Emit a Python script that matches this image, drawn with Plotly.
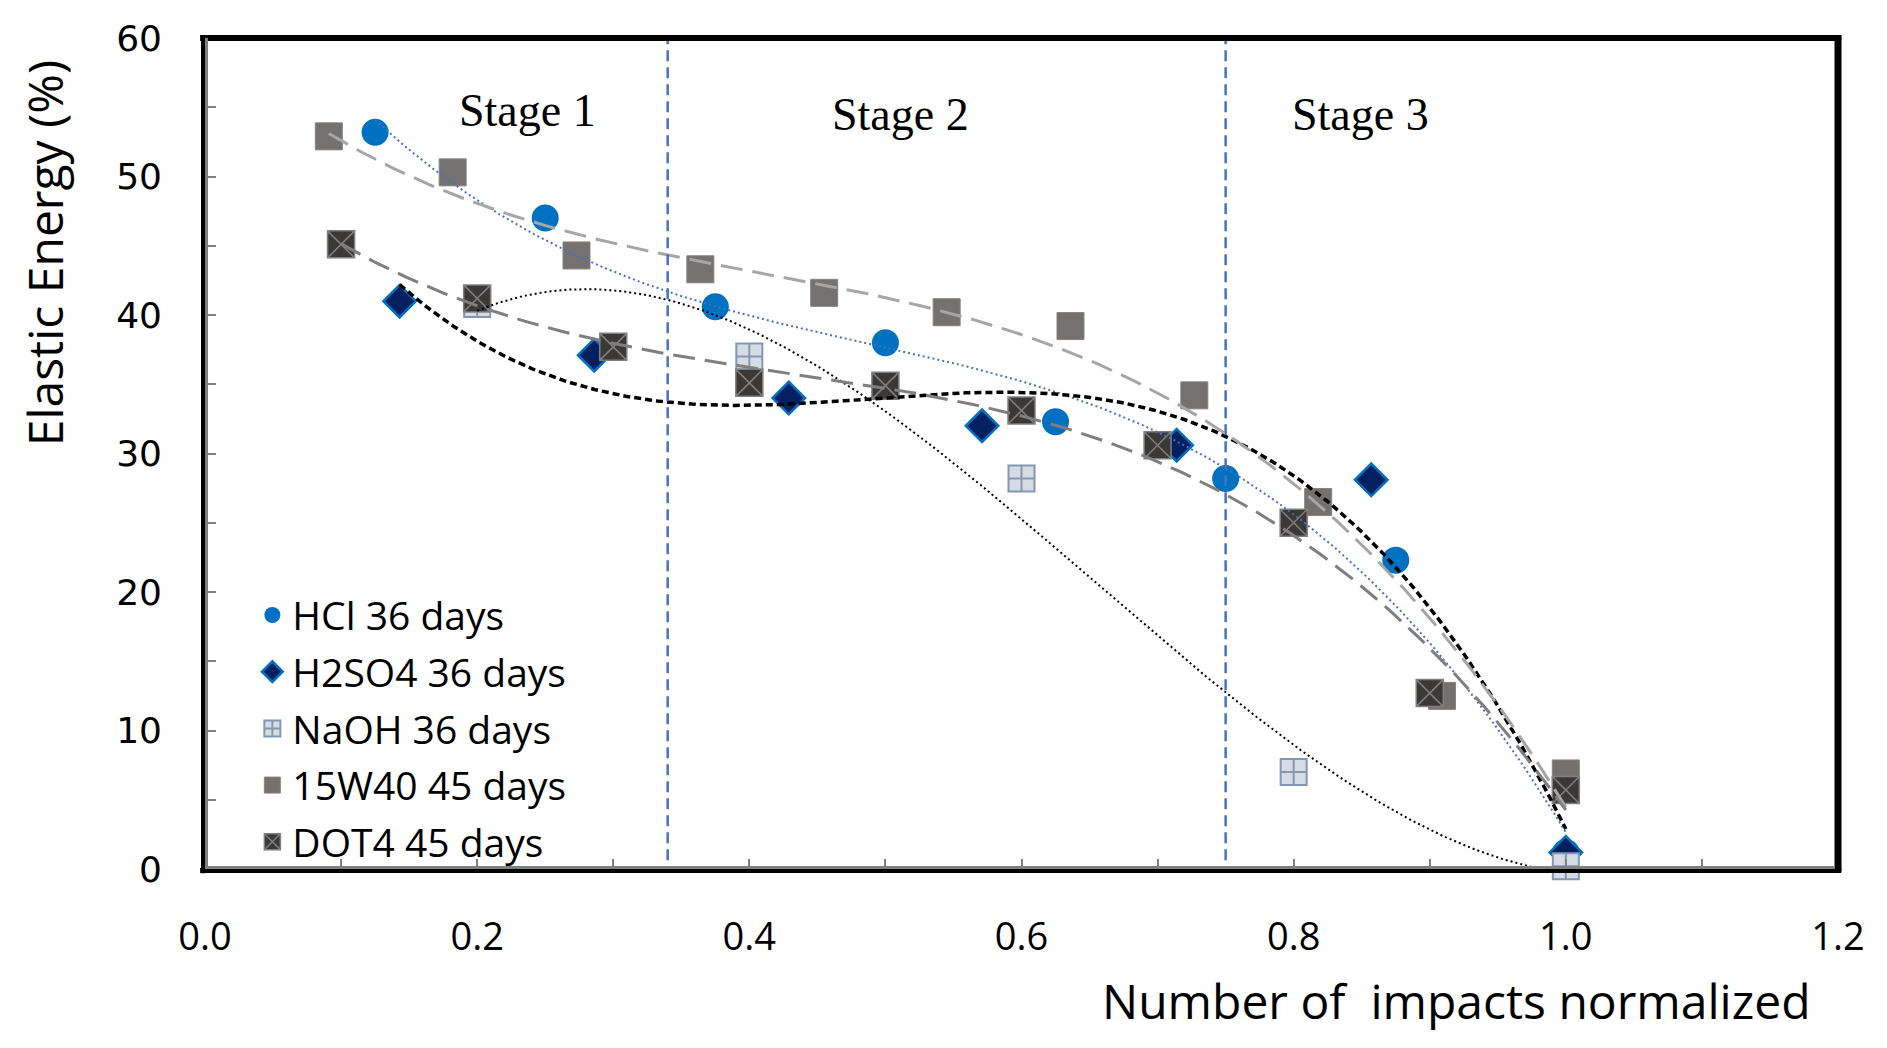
import numpy as np
import plotly.graph_objects as go

# ---------------- data ----------------
hcl_x = [0.125, 0.25, 0.375, 0.5, 0.625, 0.75, 0.875, 1.0]
hcl_y = [53.2, 47.0, 40.6, 38.0, 32.3, 28.2, 22.3, 1.2]

h2so4_x = [0.143, 0.286, 0.429, 0.571, 0.714, 0.857, 1.0]
h2so4_y = [41.0, 37.1, 34.0, 32.0, 30.6, 28.1, 1.2]

naoh_x = [0.2, 0.4, 0.6, 0.8, 1.0]
naoh_y = [40.8, 37.0, 28.2, 7.0, 0.2]

w40_x = [0.091, 0.182, 0.273, 0.364, 0.455, 0.545, 0.636, 0.727, 0.818, 0.909, 1.0]
w40_y = [52.9, 50.3, 44.3, 43.3, 41.6, 40.2, 39.2, 34.2, 26.5, 12.5, 6.9]

dot4_x = [0.1, 0.2, 0.3, 0.4, 0.5, 0.6, 0.7, 0.8, 0.9, 1.0]
dot4_y = [45.1, 41.2, 37.7, 35.1, 34.9, 33.1, 30.6, 25.0, 12.7, 5.7]

stage_bounds = [0.34, 0.75]
stage_names = ["Stage 1", "Stage 2", "Stage 3"]
stage_label_x = [0.237, 0.511, 0.849]
stage_label_y = [54.8, 54.5, 54.5]

series_names = ["HCl 36 days", "H2SO4 36 days", "NaOH 36 days", "15W40 45 days", "DOT4 45 days"]
x_ticks = [0.0, 0.2, 0.4, 0.6, 0.8, 1.0, 1.2]
y_ticks = [0, 10, 20, 30, 40, 50, 60]


def trend(xs, ys, deg=3, n=300):
    c = np.polyfit(xs, ys, deg)
    xx = np.linspace(min(xs), max(xs), n)
    return xx, np.polyval(c, xx)


fig = go.Figure()

marker_specs = [
    (hcl_x, hcl_y, dict(symbol="circle", size=27, color="#0070C0", line=dict(width=0))),
    (h2so4_x, h2so4_y, dict(symbol="diamond", size=25, color="#002060", line=dict(width=2.5, color="#0070C0"))),
    (naoh_x, naoh_y, dict(symbol="square-cross", size=26, color="#D6DCE5", line=dict(width=2, color="#8497B0"))),
    (w40_x, w40_y, dict(symbol="square", size=27, color="#767171", line=dict(width=1, color="#858282"))),
    (dot4_x, dot4_y, dict(symbol="square-x", size=27, color="#3B3838", line=dict(width=1.5, color="#7F7F7F"))),
]

for i, ((xs, ys, mk), name) in enumerate(zip(marker_specs, series_names)):
    fig.add_trace(go.Scatter(
        x=xs, y=ys, mode="markers", name=name, marker=mk,
        legendgroup="g%d" % i, cliponaxis=False,
    ))

trend_specs = [
    (hcl_x, hcl_y, "#4472C4", 2, "2px,3px"),
    (h2so4_x, h2so4_y, "#000000", 3.5, "7px,4px"),
    (naoh_x, naoh_y, "#000000", 2, "2px,3px"),
    (w40_x, w40_y, "#A6A6A6", 3, "22px,10px"),
    (dot4_x, dot4_y, "#7F7F7F", 3, "22px,10px"),
]
for i, (xs, ys, col, w, dash) in enumerate(trend_specs):
    tx, ty = trend(xs, ys, 3)
    fig.add_trace(go.Scatter(
        x=tx, y=ty, mode="lines", showlegend=False, hoverinfo="skip",
        line=dict(color=col, width=w, dash=dash), legendgroup="g%d" % i,
    ))

shapes = []
for b in stage_bounds:
    shapes.append(dict(type="line", xref="x", yref="y", x0=b, x1=b, y0=-0.6, y1=60,
                       line=dict(color="#4472C4", width=2.5, dash="11px,6px"), layer="above"))

# frame
shapes += [
    dict(type="line", xref="paper", yref="paper", x0=-0.003, x1=1.002, y0=1, y1=1,
         line=dict(color="#000000", width=6), layer="above"),
    dict(type="line", xref="paper", yref="paper", x0=1, x1=1, y0=-0.003, y1=1.003,
         line=dict(color="#000000", width=7), layer="above"),
    dict(type="line", xref="paper", yref="paper", xsizemode="pixel", xanchor=0,
         x0=-2, x1=-2, y0=-0.005, y1=1.003, line=dict(color="#000000", width=4), layer="above"),
    dict(type="line", xref="paper", yref="paper", xsizemode="pixel", xanchor=0,
         x0=1.5, x1=1.5, y0=0.0, y1=1.0, line=dict(color="#808080", width=3), layer="above"),
    dict(type="line", xref="paper", yref="paper", ysizemode="pixel", yanchor=0,
         y0=-1.5, y1=-1.5, x0=-0.003, x1=1.002, line=dict(color="#000000", width=5), layer="above"),
    dict(type="line", xref="paper", yref="paper", ysizemode="pixel", yanchor=0,
         y0=1.5, y1=1.5, x0=0.0, x1=0.998, line=dict(color="#808080", width=3), layer="above"),
]

annotations = []
for name, sx, sy in zip(stage_names, stage_label_x, stage_label_y):
    annotations.append(dict(x=sx, y=sy, xref="x", yref="y", text=name, showarrow=False,
                            font=dict(family="Liberation Serif", size=46, color="#000000"),
                            xanchor="center", yanchor="middle"))
annotations.append(dict(x=-0.0986, y=0.741, xref="paper", yref="paper", text="Elastic Energy (%)",
                        textangle=-90, showarrow=False, xanchor="center", yanchor="middle",
                        font=dict(family="Open Sans", size=48, color="#000000")))
annotations.append(dict(x=0.9847, y=-0.1588, xref="paper", yref="paper",
                        text="Number of\u00a0 impacts normalized",
                        showarrow=False, xanchor="right", yanchor="middle",
                        font=dict(family="Open Sans", size=48, color="#000000")))

fig.update_layout(
    width=1887, height=1048,
    margin=dict(l=205, r=49, t=38, b=179, pad=0),
    paper_bgcolor="white", plot_bgcolor="white",
    shapes=shapes, annotations=annotations,
    showlegend=True,
    legend=dict(x=0.029, y=0.344, xanchor="left", yanchor="top",
                font=dict(family="Open Sans", size=39, color="#000000"),
                bgcolor="rgba(0,0,0,0)", tracegroupgap=3, itemsizing="trace"),
    xaxis=dict(range=[0, 1.2], tickvals=x_ticks, ticktext=["%.1f" % v for v in x_ticks],
               showgrid=False, zeroline=False, showline=False,
               ticks="inside", ticklen=10, tickwidth=2, tickcolor="#808080",
               minor=dict(ticks="inside", dtick=0.1, ticklen=10, tickwidth=2, tickcolor="#808080"),
               tickfont=dict(family="Open Sans", size=38, color="#000000"),
               ticklabelstandoff=42),
    yaxis=dict(range=[0, 60], tickvals=y_ticks, showgrid=False, zeroline=False, showline=False,
               ticks="inside", ticklen=11, tickwidth=2, tickcolor="#808080",
               minor=dict(ticks="inside", dtick=5, ticklen=11, tickwidth=2, tickcolor="#808080"),
               tickfont=dict(family="DejaVu Sans", size=36, color="#000000"),
               ticklabelstandoff=42),
)

fig.write_html("out.html")
